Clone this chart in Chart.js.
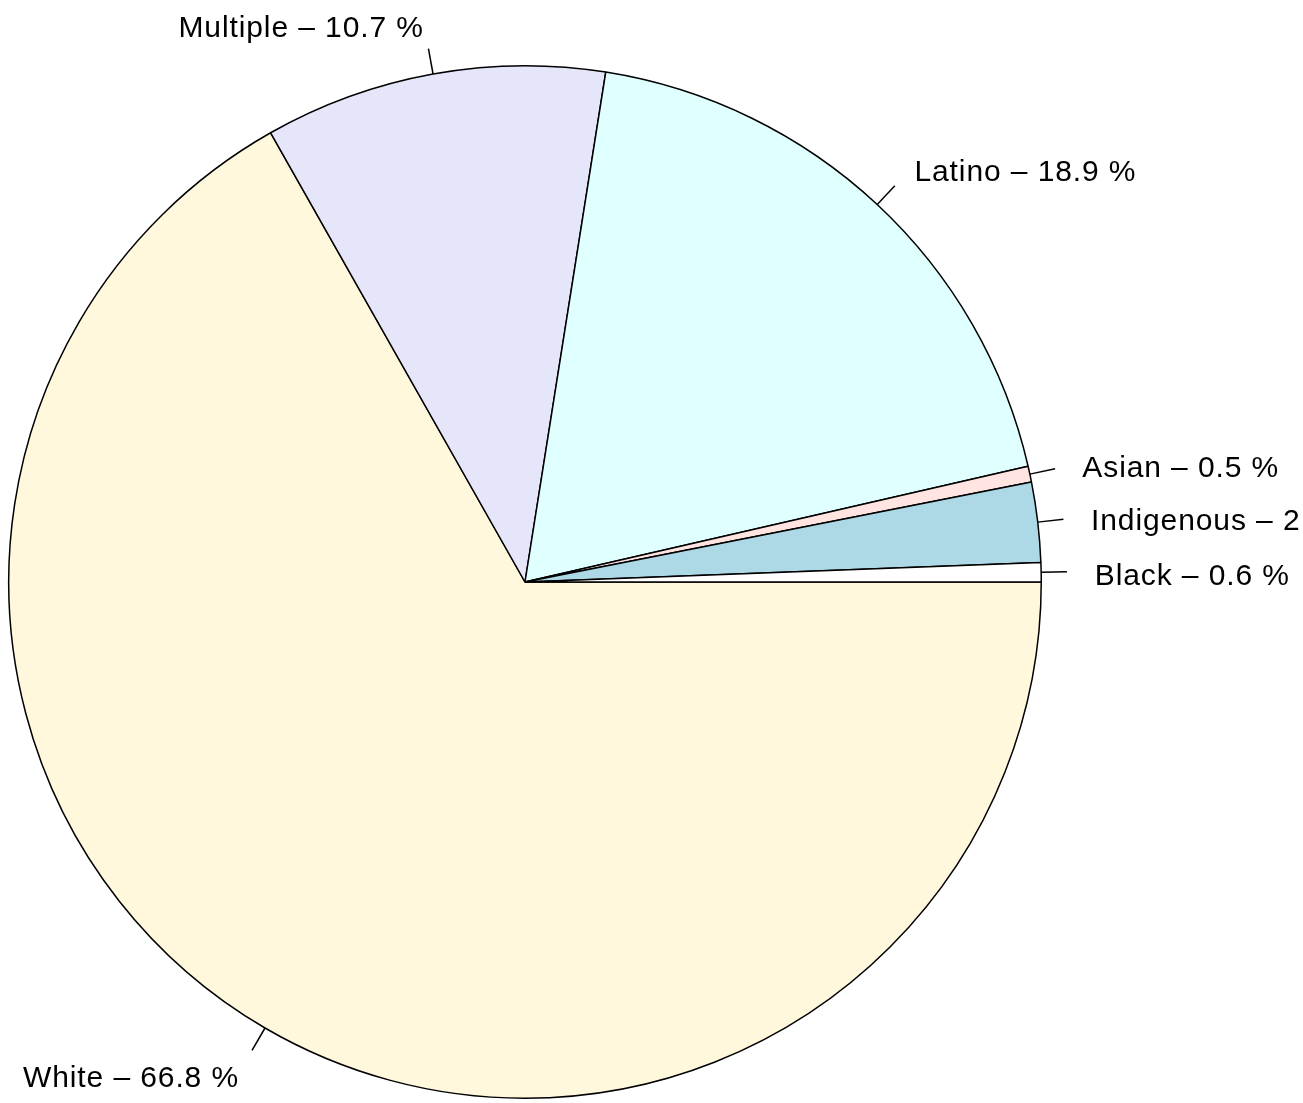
<!DOCTYPE html>
<html>
<head>
<meta charset="utf-8">
<script src="https://cdn.jsdelivr.net/npm/chart.js@4"></script>
<style>
  html, body { margin: 0; padding: 0; background: #fff; }
  #wrap { width: 1303px; height: 1103px; }
</style>
</head>
<body>
<div id="wrap"><canvas id="pie"></canvas></div>
<script>
// slices in R order (counterclockwise from 3 o'clock)
const groups = ["Black", "Indigenous", "Asian", "Latino", "Multiple", "White"];
const shares = [0.6, 2.5, 0.5, 18.9, 10.7, 66.8];
const fills = ["#FFFFFF", "#ADD8E6", "#FFE4E1", "#E0FFFF", "#E6E6FA", "#FFF8DC"];

// chart.js draws clockwise, so feed it reversed to get R's counterclockwise layout
const labels = groups.slice().reverse();
const values = shares.slice().reverse();
const colors = fills.slice().reverse();

const pieLabels = {
  id: "pieLabels",
  afterDatasetsDraw(chart) {
    const ctx = chart.ctx;
    const arcs = chart.getDatasetMeta(0).data;
    ctx.save();
    ctx.strokeStyle = "#000";
    ctx.lineWidth = 1.5;
    ctx.fillStyle = "#000";
    ctx.font = "30px 'Liberation Sans', Arial, sans-serif";
    if ("letterSpacing" in ctx) ctx.letterSpacing = "0.9px";
    ctx.textBaseline = "alphabetic";
    arcs.forEach((arc, i) => {
      const mid = (arc.startAngle + arc.endAngle) / 2;
      const r = arc.outerRadius;
      const c = Math.cos(mid), s = Math.sin(mid);
      ctx.beginPath();
      ctx.moveTo(arc.x + r * c, arc.y + r * s);
      ctx.lineTo(arc.x + 1.05 * r * c, arc.y + 1.05 * r * s);
      ctx.stroke();
      ctx.textAlign = c >= 0 ? "left" : "right";
      const dx = c >= 0 ? 2 : 0;
      ctx.fillText(labels[i] + " \u2013 " + values[i] + " %", arc.x + 1.1 * r * c + dx, arc.y + 1.1 * r * s + 14);
    });
    ctx.restore();
  },
};

new Chart(document.getElementById("pie"), {
  type: "pie",
  data: {
    labels,
    datasets: [{
      data: values,
      backgroundColor: colors,
      borderColor: "#000",
      borderWidth: 1.5,
    }],
  },
  options: {
    responsive: true,
    maintainAspectRatio: false,
    animation: false,
    rotation: 90,
    layout: { padding: { left: 8, right: 261, top: 65, bottom: 4 } },
    plugins: { legend: { display: false }, tooltip: { enabled: false } },
  },
  plugins: [pieLabels],
});
</script>
</body>
</html>
